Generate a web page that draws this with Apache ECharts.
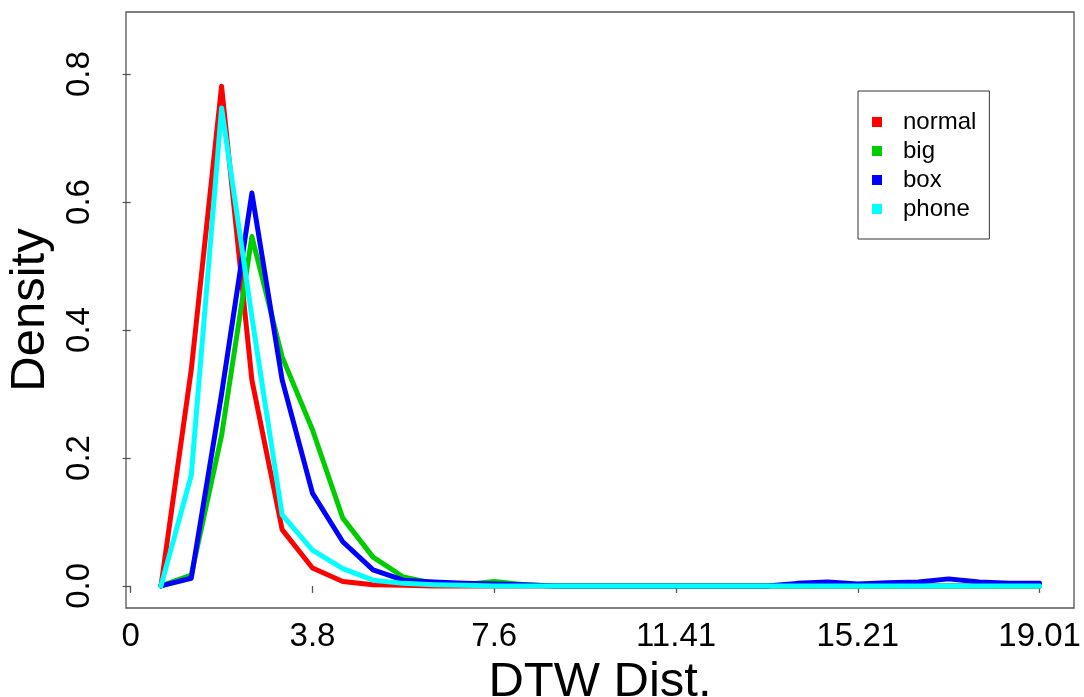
<!DOCTYPE html>
<html>
<head>
<meta charset="utf-8">
<script src="https://cdn.jsdelivr.net/npm/echarts@6/dist/echarts.min.js"></script>
<style>
html,body{margin:0;padding:0;background:#fff;}
#chart{width:1084px;height:697px;}
</style>
</head>
<body>
<div id="chart"></div>
<script>
// DTW distance grid (x positions of density estimates)
const xValues = [0.634, 1.267, 1.901, 2.535, 3.168, 3.802, 4.436, 5.069, 5.703, 6.337,
  6.970, 7.604, 8.238, 8.871, 9.505, 10.139, 10.772, 11.406, 12.040, 12.673,
  13.307, 13.941, 14.574, 15.208, 15.842, 16.475, 17.109, 17.743, 18.376, 19.010];

const normalDensity = [0, 0.338, 0.781, 0.322, 0.088, 0.028, 0.007, 0.002, 0.001, 0,
  0, 0, 0, 0, 0, 0, 0, 0, 0, 0,
  0, 0, 0, 0, 0, 0, 0, 0, 0, 0];
const bigDensity = [0, 0.017, 0.235, 0.546, 0.358, 0.244, 0.106, 0.045, 0.014, 0.004,
  0.002, 0.007, 0.002, 0, 0, 0, 0, 0, 0, 0,
  0, 0, 0, 0, 0, 0, 0, 0, 0, 0];
const boxDensity = [0, 0.012, 0.30, 0.614, 0.322, 0.145, 0.069, 0.025, 0.009, 0.006,
  0.004, 0.003, 0.002, 0, 0, 0, 0, 0, 0, 0,
  0, 0.004, 0.006, 0.003, 0.005, 0.006, 0.011, 0.006, 0.004, 0.004];
const phoneDensity = [0, 0.173, 0.747, 0.42, 0.111, 0.056, 0.027, 0.009, 0.004, 0.002,
  0.001, 0, 0, 0, 0, 0, 0, 0, 0, 0,
  0, 0, 0, 0, 0, 0, 0, 0, 0, 0];

const seriesNames = ['normal', 'big', 'box', 'phone'];
const seriesColors = ['#FF0000', '#00CD00', '#0000FF', '#00FFFF'];

const xTickValues = [0, 3.802, 7.604, 11.406, 15.208, 19.01];
const xTickLabels = ['0', '3.8', '7.6', '11.41', '15.21', '19.01'];
const yTickValues = [0, 0.2, 0.4, 0.6, 0.8];
const yTickLabels = ['0.0', '0.2', '0.4', '0.6', '0.8'];

const allData = [normalDensity, bigDensity, boxDensity, phoneDensity];
const FONT = '"Liberation Sans", Arial, sans-serif';
const AXIS_COLOR = '#555555';

function fmt(list, labels) {
  return function (v) {
    for (let i = 0; i < list.length; i++) {
      if (Math.abs(list[i] - v) < 1e-6) return labels[i];
    }
    return '';
  };
}

const chart = echarts.init(document.getElementById('chart'), null, {renderer: 'canvas'});
chart.setOption({
  animation: false,
  backgroundColor: '#ffffff',
  grid: {
    left: 126, right: 10, top: 12, bottom: 89,
    containLabel: false,
    outerBoundsMode: 'none',
    show: true, borderColor: AXIS_COLOR, borderWidth: 1.3, backgroundColor: 'transparent'
  },
  legend: {
    data: seriesNames,
    orient: 'vertical',
    left: 858, top: 91,
    icon: 'rect',
    itemWidth: 10, itemHeight: 10,
    itemGap: 5,
    padding: [19, 13, 18, 14],
    borderColor: '#333333', borderWidth: 1,
    textStyle: {fontFamily: FONT, fontSize: 24, color: '#000', padding: [0, 0, 0, 16], lineHeight: 24}
  },
  xAxis: {
    type: 'value',
    min: -0.098, max: 19.73,
    name: 'DTW Dist.',
    nameLocation: 'middle',
    nameGap: 42,
    nameTextStyle: {fontFamily: FONT, fontSize: 49, color: '#000'},
    splitLine: {show: false},
    axisLine: {show: false},
    axisTick: {show: true, customValues: xTickValues, length: 7, lineStyle: {color: AXIS_COLOR, width: 1.3}},
    axisLabel: {
      customValues: xTickValues, formatter: fmt(xTickValues, xTickLabels),
      fontFamily: FONT, fontSize: 33, color: '#000', margin: 12
    }
  },
  yAxis: {
    type: 'value',
    min: -0.0345, max: 0.897,
    name: 'Density',
    nameLocation: 'middle',
    nameRotate: 90,
    nameGap: 67,
    nameTextStyle: {fontFamily: FONT, fontSize: 49, color: '#000'},
    splitLine: {show: false},
    axisLine: {show: false},
    axisTick: {show: true, customValues: yTickValues, length: 8, lineStyle: {color: AXIS_COLOR, width: 1.3}},
    axisLabel: {
      customValues: yTickValues, formatter: fmt(yTickValues, yTickLabels),
      rotate: 90,
      fontFamily: FONT, fontSize: 33, color: '#000', margin: 30
    }
  },
  series: seriesNames.map(function (name, i) {
    return {
      name: name,
      type: 'line',
      data: xValues.map(function (x, j) { return [x, allData[i][j]]; }),
      showSymbol: false,
      symbol: 'none',
      color: seriesColors[i],
      lineStyle: {color: seriesColors[i], width: 5, cap: 'round', join: 'round'},
      z: 2 + i
    };
  })
});
</script>
</body>
</html>
